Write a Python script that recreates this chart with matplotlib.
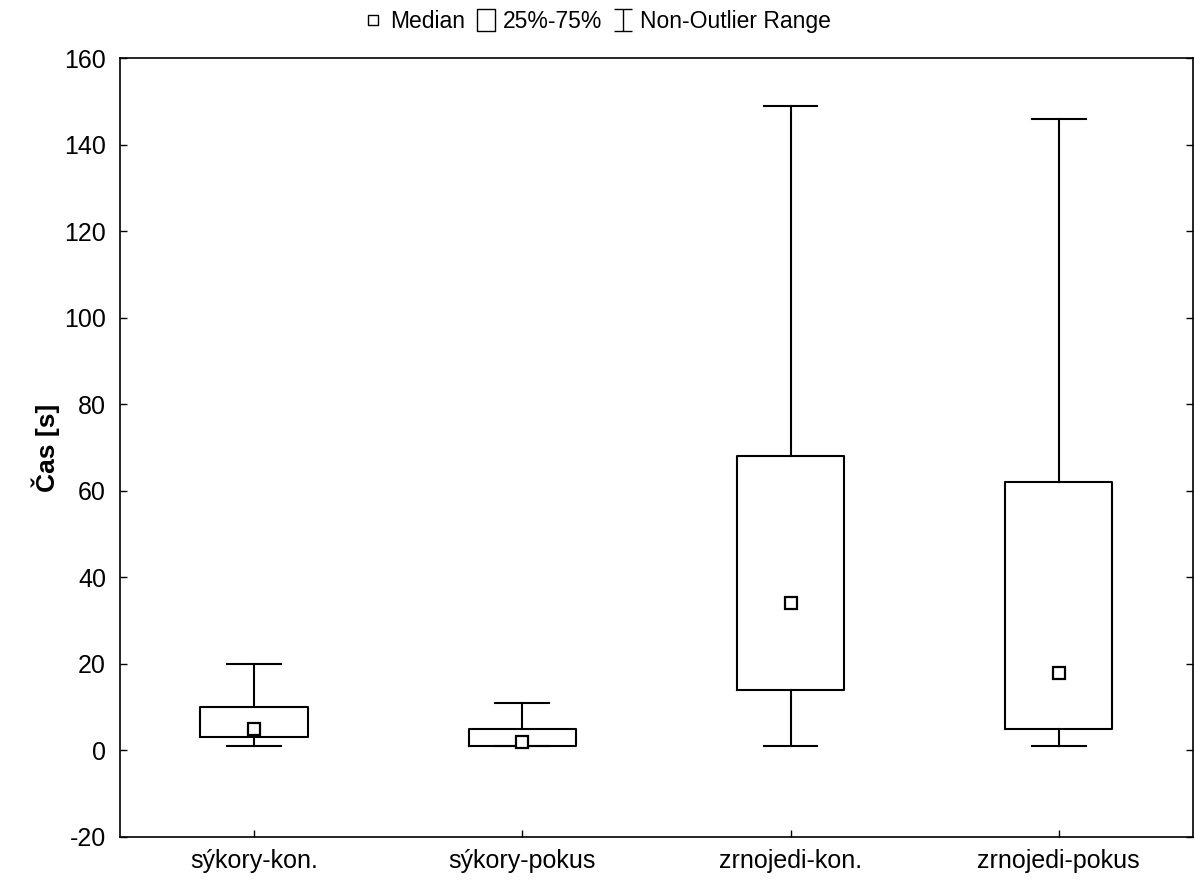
import matplotlib
matplotlib.use("Agg")
import matplotlib.pyplot as plt
from matplotlib.lines import Line2D
from matplotlib.path import Path

plt.rcParams["font.family"] = ["Liberation Sans", "DejaVu Sans"]
plt.rcParams["axes.unicode_minus"] = False

groups = ["sýkory-kon.", "sýkory-pokus", "zrnojedi-kon.", "zrnojedi-pokus"]
medians = [5, 2, 34, 18]
q1 = [3, 1, 14, 5]
q3 = [10, 5, 68, 62]
whisk_lo = [1, 1, 1, 1]
whisk_hi = [20, 11, 149, 146]
yticks = [-20, 0, 20, 40, 60, 80, 100, 120, 140, 160]

stats = []
for i in range(len(groups)):
    stats.append({"label": groups[i], "med": medians[i], "q1": q1[i], "q3": q3[i],
                  "whislo": whisk_lo[i], "whishi": whisk_hi[i], "fliers": []})

fig = plt.figure(figsize=(11.94, 8.81), dpi=100)
ax = fig.add_axes([0.1005, 0.05, 0.8985, 0.884])

pos = list(range(len(groups)))
lw = 1.5
ax.bxp(stats, positions=pos, widths=0.4, capwidths=0.2, showfliers=False,
       boxprops=dict(color="black", linewidth=lw),
       whiskerprops=dict(color="black", linewidth=lw),
       capprops=dict(color="black", linewidth=lw),
       medianprops=dict(linestyle="none"))
ax.plot(pos, medians, linestyle="none", marker="s", markersize=9,
        markerfacecolor="white", markeredgecolor="black", markeredgewidth=1.6, zorder=5)

ax.set_xlim(-0.5, 3.5)
ax.set_ylim(-20, 160)
ax.set_yticks(yticks)
ax.set_xticks(pos)
ax.set_xticklabels(groups)
ax.tick_params(axis="both", direction="in", length=5, width=1, labelsize=18)
ax.tick_params(axis="y", right=True, pad=10)
ax.tick_params(axis="x", pad=9)
for s in ax.spines.values():
    s.set_linewidth(1.2)
ax.set_ylabel("Čas [s]", fontsize=19, fontweight="bold", labelpad=3)

# legend symbols: median square, box, whisker range
box_path = Path([(-0.8, -1), (0.8, -1), (0.8, 1), (-0.8, 1), (-0.8, -1)],
                [Path.MOVETO, Path.LINETO, Path.LINETO, Path.LINETO, Path.CLOSEPOLY])
whisk_path = Path([(-0.85, 1), (0.85, 1), (0, 1), (0, -1), (-0.85, -1), (0.85, -1)],
                  [Path.MOVETO, Path.LINETO, Path.MOVETO, Path.LINETO, Path.MOVETO, Path.LINETO])
handles = [
    Line2D([], [], linestyle="none", marker="s", markersize=6.5, markerfacecolor="white",
           markeredgecolor="black", markeredgewidth=1.0),
    Line2D([], [], linestyle="none", marker=box_path, markersize=15.5, markerfacecolor="none",
           markeredgecolor="black", markeredgewidth=1.0),
    Line2D([], [], linestyle="none", marker=whisk_path, markersize=15.5,
           markeredgecolor="black", markeredgewidth=1.0),
]
fig.legend(handles, ["Median", "25%-75%", "Non-Outlier Range"], loc="upper center",
           bbox_to_anchor=(0.5, 1.012), ncol=3, frameon=False, fontsize=16.5,
           handlelength=0.9, handletextpad=0.3, columnspacing=0.45)

fig.savefig("out.png", dpi=100)
